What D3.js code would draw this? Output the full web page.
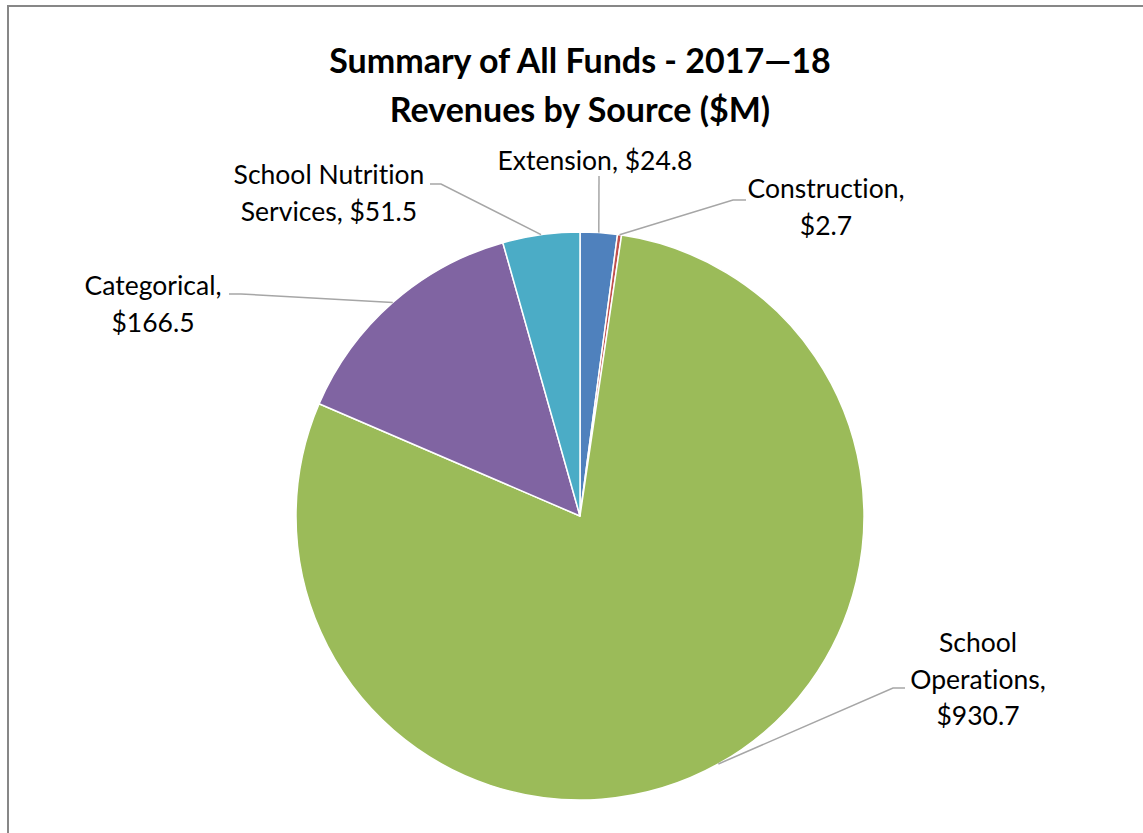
<!DOCTYPE html>
<html>
<head>
<meta charset="utf-8">
<script src="https://cdn.jsdelivr.net/npm/d3@7"></script>
<style>
  body { margin: 0; background: #fff; }
  text { font-family: Lato, "Open Sans", sans-serif; fill: #000; font-variant-ligatures: none; font-feature-settings: "liga" 0, "dlig" 0; }
</style>
</head>
<body>
<svg id="chart" width="1143" height="833"></svg>
<script>
// Revenue sources (in $M), listed clockwise from 12 o'clock
const categories = ["Extension", "Construction", "School Operations", "Categorical", "School Nutrition Services"];
const revenues = [24.8, 2.7, 930.7, 166.5, 51.5];
const sliceColors = ["#4F81BD", "#C0504D", "#9BBB59", "#8064A2", "#4BACC6"];
const titleLines = ["Summary of All Funds - 2017\u201418", "Revenues by Source ($M)"];
// How each data label breaks into lines; {v} is replaced by the value
const labelTemplates = [
  ["Extension, ${v}"],
  ["Construction,", "${v}"],
  ["School", "Operations,", "${v}"],
  ["Categorical,", "${v}"],
  ["School Nutrition", "Services, ${v}"]
];

// Label placement: text centre x, first baseline y, and leader elbow points
const labelLayout = [
  { x: 595, y: 170, leader: [[599, 176]] },
  { x: 826, y: 198, leader: [[733, 200], [746, 200]] },
  { x: 978, y: 652, leader: [[893, 688], [905, 688]] },
  { x: 153, y: 295, leader: [[241, 294], [229, 294]] },
  { x: 329, y: 184, leader: [[441, 184], [430, 184]] }
];

const W = 1143, H = 833;
const cx = 580, cy = 516, radius = 284;
const lineGap = 36.5;

const svg = d3.select("#chart");

// chart frame (top and left edges visible)
svg.append("path")
  .attr("d", `M8,${H} V6 H${W}`)
  .attr("fill", "none")
  .attr("stroke", "#878787")
  .attr("stroke-width", 2);

// title
svg.append("g").selectAll("text")
  .data(titleLines)
  .join("text")
  .attr("x", cx)
  .attr("y", (d, i) => 73 + i * 49)
  .attr("text-anchor", "middle")
  .attr("font-size", 34)
  .attr("font-weight", 700)
  .text(d => d);

const data = categories.map((c, i) => ({ name: c, value: revenues[i], color: sliceColors[i], i }));

const pie = d3.pie().value(d => d.value).sort(null);
const arcs = pie(data);
const arc = d3.arc().innerRadius(0).outerRadius(radius);
const rimArc = d3.arc().innerRadius(radius).outerRadius(radius);

const g = svg.append("g").attr("transform", `translate(${cx},${cy})`);

g.selectAll("path.slice")
  .data(arcs)
  .join("path")
  .attr("class", "slice")
  .attr("d", arc)
  .attr("fill", d => d.data.color)
  .attr("stroke", "#fff")
  .attr("stroke-width", 1.5)
  .attr("stroke-linejoin", "round");

// leader lines from slice rim to label
const line = d3.line();
svg.append("g").selectAll("path")
  .data(arcs)
  .join("path")
  .attr("d", d => {
    const [ax, ay] = rimArc.centroid(d);
    const pts = [[cx + ax, cy + ay]].concat(labelLayout[d.index].leader);
    return line(pts);
  })
  .attr("fill", "none")
  .attr("stroke", "#A6A6A6")
  .attr("stroke-width", 1.5);

// data labels
const fmt = d3.format("$.1f");
const labels = svg.append("g").selectAll("text")
  .data(arcs)
  .join("text")
  .attr("text-anchor", "middle")
  .attr("font-size", 26.5);

labels.each(function (d) {
  const lay = labelLayout[d.index];
  const lines = labelTemplates[d.index].map(t => t.replace("${v}", fmt(d.data.value)));
  d3.select(this).selectAll("tspan")
    .data(lines)
    .join("tspan")
    .attr("x", lay.x)
    .attr("y", (t, k) => lay.y + k * lineGap)
    .text(t => t);
});
</script>
</body>
</html>
